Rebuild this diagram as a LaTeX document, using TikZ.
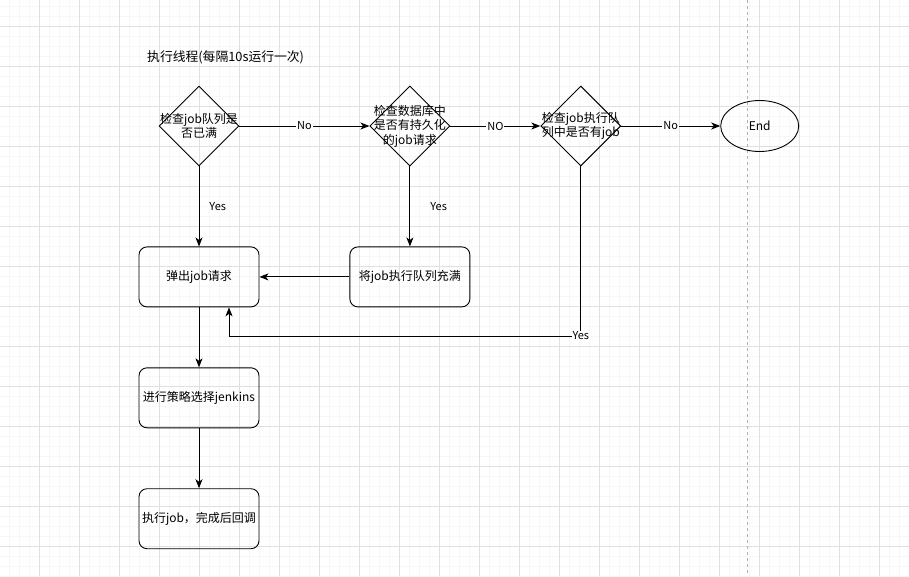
\documentclass[tikz,border=0pt]{standalone}
\usepackage{fontspec}
\newfontfamily\cjk{Noto Sans CJK SC}
\usetikzlibrary{shapes.geometric,arrows.meta,positioning}
\tikzset{
  textfont/.style={font=\cjk\fontsize{12}{14.5}\selectfont},
  procbox/.style={draw, line width=0.9pt, rounded corners=8pt, minimum width=120pt, minimum height=60pt, inner sep=0pt, textfont},
  decision/.style={draw, line width=0.9pt, diamond, minimum width=80pt, minimum height=80pt, inner sep=0pt},
  dtext/.style={align=center, inner sep=0pt, textfont},
  terminal/.style={draw, line width=0.9pt, ellipse, minimum width=78pt, minimum height=51pt, inner sep=0pt, textfont},
  flow/.style={line width=0.9pt, -{Stealth[length=9pt, width=7pt, inset=2.5pt]}},
  edgelbl/.style={fill=white, inner sep=1pt, font=\cjk\fontsize{11}{13}\selectfont},
}
\begin{document}
\begin{tikzpicture}[x=1pt, y=-1pt]
\newcommand{\picw}{909}
\newcommand{\pich}{576}
\useasboundingbox (0,0) rectangle (\picw,\pich);
\fill[white] (0,0) rectangle (\picw,\pich);
%% background grid
\begin{scope}
  \clip (0,0) rectangle (\picw,\pich);
  \foreach \gx in {-0.5,9.5,...,909} \draw[black!3, line width=0.8pt] (\gx,0) -- (\gx,\pich);
  \foreach \gy in {6,16,...,576} \draw[black!3, line width=0.8pt] (0,\gy) -- (\picw,\gy);
  \foreach \gx in {-0.5,39.5,...,909} \draw[black!12, line width=0.8pt] (\gx,0) -- (\gx,\pich);
  \foreach \gy in {26,66,...,576} \draw[black!12, line width=0.8pt] (0,\gy) -- (\picw,\gy);
  \draw[black!30, dashed, line width=0.8pt] (747,0) -- (747,\pich);
\end{scope}

\node[font=\cjk\fontsize{12.8}{15}\selectfont, anchor=west, inner sep=0pt] (title) at (147,57) {执行线程(每隔10s运行一次)};

%% decisions along the top
\node[decision] (d1) at (199,126) {};
\node[dtext] (t1) at (d1) {检查job队列是\\否已满};
\node[decision, right=130pt of d1] (d2) {};
\node[dtext] (t2) at (d2) {检查数据库中\\是否有持久化\\的job请求};
\node[decision, right=90pt of d2] (d3) {};
\node[dtext] (t3) at (d3) {检查job执行队\\列中是否有job};
\node[terminal, right=99pt of d3] (end) {End};

%% process boxes
\node[procbox, below=80pt of d1] (pop) {弹出job请求};
\node[procbox, below=80pt of d2] (fill) {将job执行队列充满};
\node[procbox, below=60pt of pop] (pick) {进行策略选择jenkins};
\node[procbox, below=60pt of pick] (run) {执行job，完成后回调};

\coordinate (loop) at ([xshift=30pt]pop.south |- 0,336);

\draw[flow] (d1) -- node[edgelbl]{No} (d2);
\draw[flow] (d2) -- node[edgelbl]{NO} (d3);
\draw[flow] (d3) -- node[edgelbl]{No} (end);
\draw[flow] (d1) -- node[edgelbl, fill=none, anchor=west, xshift=9pt]{Yes} (pop);
\draw[flow] (d2) -- node[edgelbl, fill=none, anchor=west, xshift=19pt]{Yes} (fill);
\draw[flow] (fill) -- (pop);
\draw[flow] (d3.south) |- node[edgelbl]{Yes} (loop) -- (loop |- pop.south);
\draw[flow] (pop) -- (pick);
\draw[flow] (pick) -- (run);
\end{tikzpicture}
\end{document}
